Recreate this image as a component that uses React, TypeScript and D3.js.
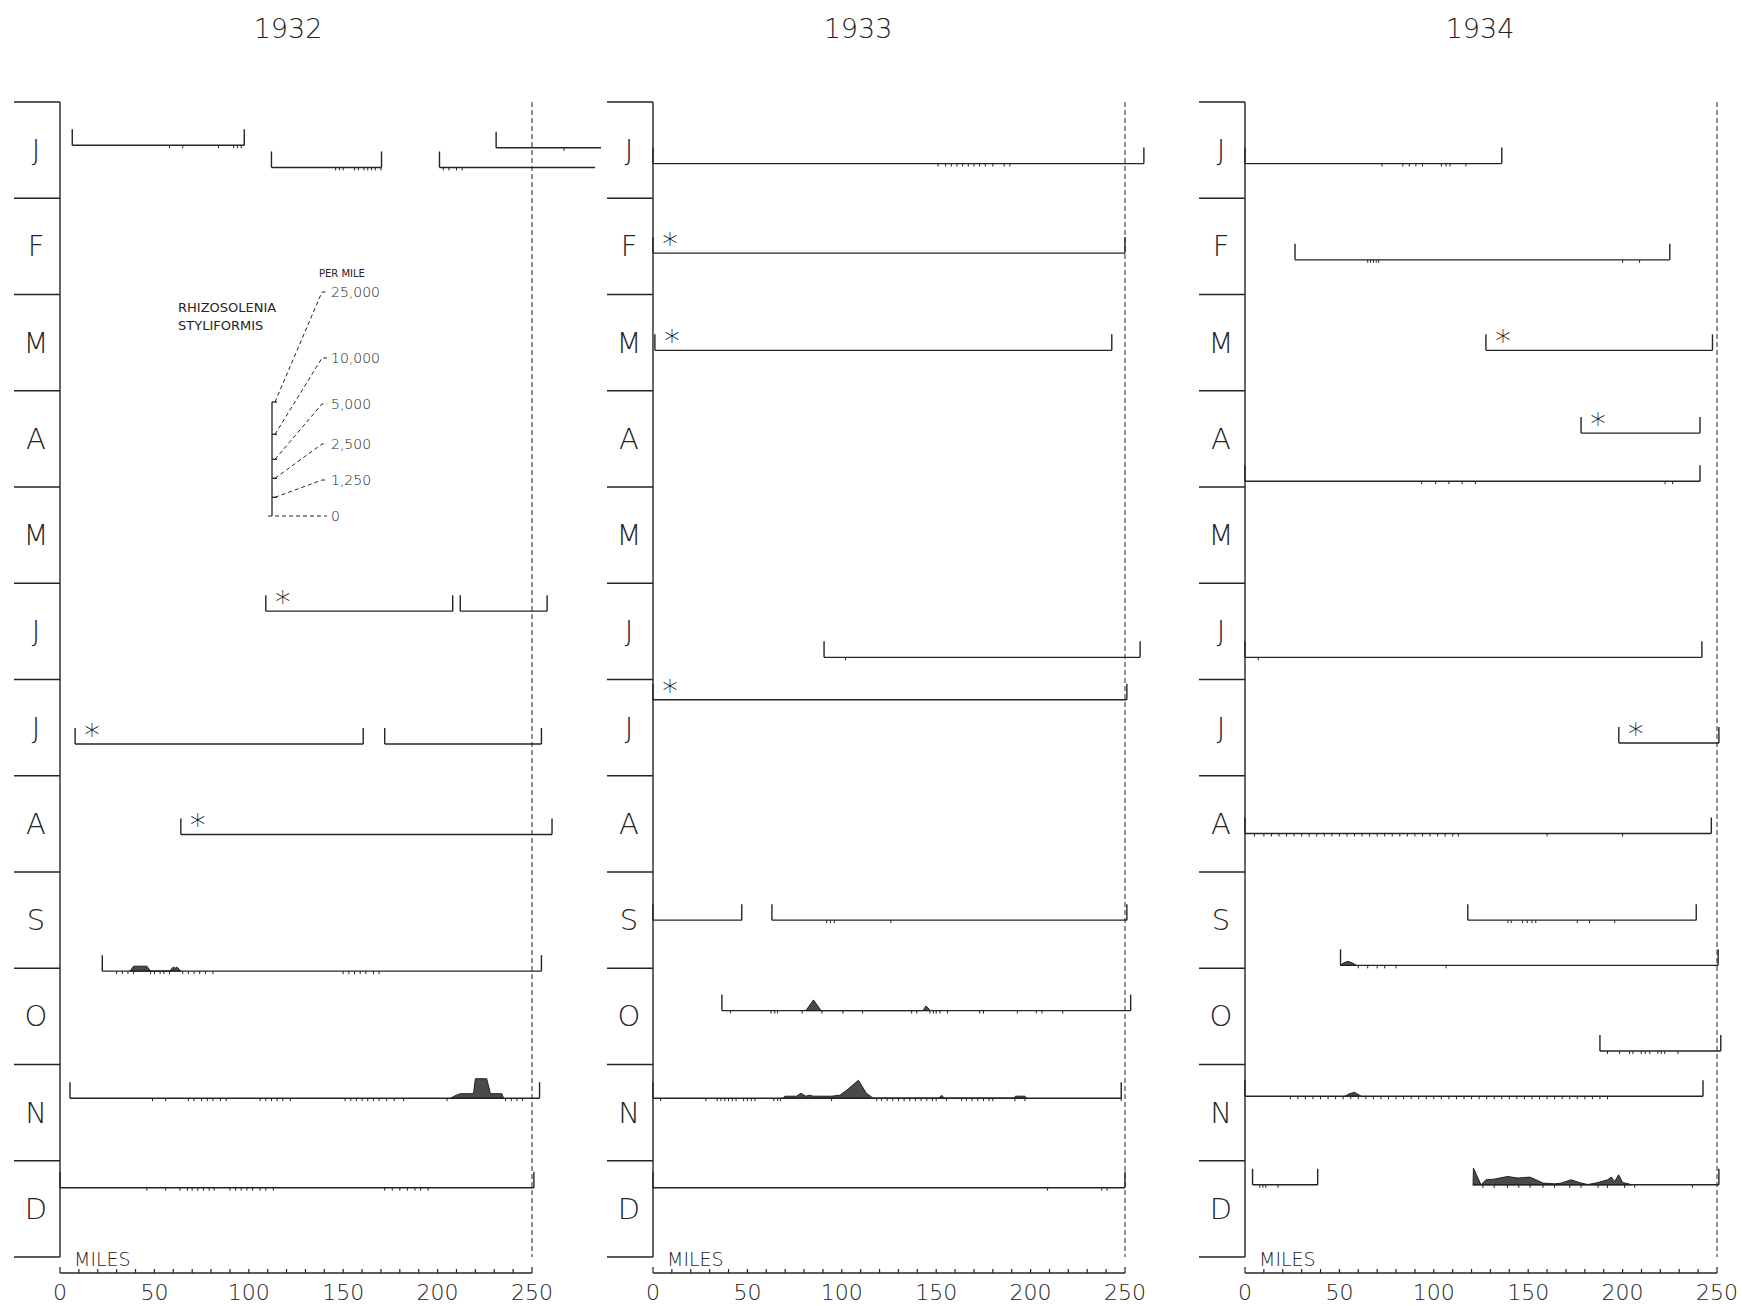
import React from "react";
import * as d3 from "d3";

// ---------------- DATA ----------------
const years = ["1932", "1933", "1934"];
const monthLabels = ["J", "F", "M", "A", "M", "J", "J", "A", "S", "O", "N", "D"];
const mileTicks = [0, 50, 100, 150, 200, 250];
const mileMinorTicks = [0, 10, 20, 30, 40, 50, 60, 70, 80, 90, 100, 110, 120, 130, 140, 150, 160, 170, 180, 190, 200, 210, 220, 230, 240, 250];
const legendValues = [0, 1250, 2500, 5000, 10000, 25000];

type Cruise = {
  date: number; // months from 1 January
  start: number; // miles
  end: number; // miles
  star?: boolean;
  noLeft?: boolean;
  noRight?: boolean;
  stations?: number[];
  profile?: [number, number][]; // [mile, cells per mile]
};

const cruises1932: Cruise[] = [
  { date: 0.45, start: 6.5, end: 97.6, stations: [58, 65, 84, 92, 94, 96] },
  { date: 0.68, start: 112, end: 170.3, stations: [146, 148, 150, 156, 158, 161, 163, 165, 167, 170] },
  { date: 0.68, start: 201, end: 283.4, noRight: true, stations: [203, 206, 210, 213] },
  { date: 0.476, start: 231, end: 286.6, noRight: true, stations: [267] },
  { date: 5.29, start: 109, end: 208, star: true },
  { date: 5.29, start: 212, end: 258 },
  { date: 6.67, start: 8, end: 160.6, star: true },
  { date: 6.67, start: 172, end: 255 },
  { date: 7.61, start: 64, end: 260.6, star: true },
  {
    date: 9.03, start: 22.4, end: 255,
    stations: [30, 33, 36, 39, 48, 50, 53, 55, 58, 65, 68, 71, 74, 77, 81, 150, 153, 156, 159, 162, 166, 169],
    profile: [[37, 0], [39, 330], [46, 330], [48, 0], [58, 0], [60, 270], [61, 200], [62, 270], [64, 0]],
  },
  {
    date: 10.35, start: 5.3, end: 254,
    stations: [49, 56, 68, 71, 75, 78, 81, 85, 88, 106, 109, 112, 115, 118, 122, 151, 154, 157, 160, 163, 166, 169, 173, 177, 182, 205, 236, 239, 242, 245],
    profile: [[207, 0], [209, 150], [212, 300], [219, 300], [220, 1300], [226, 1300], [228, 300], [234, 300], [235, 0]],
  },
  {
    date: 11.28, start: 0, end: 251,
    stations: [46, 56, 63.5, 67.5, 70, 73, 76, 79, 81.7, 90, 93, 96, 99, 102, 106, 109, 113, 172, 176, 180, 184, 188, 191, 195],
  },
];

const cruises1933: Cruise[] = [
  { date: 0.64, start: 0, end: 260, stations: [151, 155, 158, 161, 164, 167, 170, 173, 176, 180, 186, 189] },
  { date: 1.57, start: 0, end: 250, star: true },
  { date: 2.58, start: 1, end: 243, star: true },
  { date: 5.77, start: 90.6, end: 258, stations: [102] },
  { date: 6.21, start: 0, end: 251, star: true },
  { date: 8.5, start: 0, end: 47 },
  { date: 8.5, start: 63, end: 251, stations: [92, 94, 96, 126] },
  {
    date: 9.44, start: 36.5, end: 253,
    stations: [41, 62.5, 64.5, 66, 79, 89.5, 100.6, 111, 137, 139.7, 146.7, 148.5, 150, 152, 156, 173, 175, 193, 203, 206, 217],
    profile: [[81, 0], [85, 715], [89, 0], [143, 0], [144.6, 310], [147, 0]],
  },
  {
    date: 10.35, start: 0, end: 248,
    stations: [4, 28, 34, 36, 38, 40, 42, 44, 48, 50, 52, 54, 64, 66, 67.5, 94.6, 118.5, 121, 124, 127, 130, 133, 136, 139, 142, 145, 148, 150, 155.5, 163.5, 166, 169, 172, 175, 178, 180, 191.7, 197, 248],
    profile: [[68.7, 0], [70, 130], [76, 134], [78.4, 334], [80, 200], [81, 134], [83, 200], [85, 134], [94.6, 134], [99, 200], [102.6, 535], [108.8, 1200], [113, 334], [116.6, 0], [151.5, 0], [152.9, 200], [154.3, 0], [191.2, 0], [192, 134], [197, 134], [197.8, 0]],
  },
  { date: 11.28, start: 0, end: 250, stations: [209, 237.7, 240.5] },
];

const cruises1934: Cruise[] = [
  { date: 0.64, start: 0, end: 136, stations: [72.6, 83.6, 87, 90.5, 94, 104, 106.5, 108.6, 117] },
  { date: 1.64, start: 26.5, end: 225, stations: [65, 66.5, 68, 69.5, 70.8, 200, 209] },
  { date: 2.58, start: 127.6, end: 247.6, star: true },
  { date: 3.44, start: 178, end: 241, star: true },
  { date: 3.94, start: 0, end: 241, stations: [93.6, 101, 108, 115, 122, 222.5, 226.5] },
  { date: 5.77, start: 0, end: 242, stations: [7] },
  { date: 6.66, start: 198, end: 251, star: true },
  {
    date: 7.6, start: 0, end: 247,
    stations: [5, 10, 14, 18, 22, 26, 30, 34, 38, 42, 46, 50, 54, 58, 62, 66, 70, 74, 78, 82, 86, 90, 94, 98, 102, 106, 110, 113, 160, 200],
  },
  { date: 8.5, start: 118, end: 239, stations: [139.3, 141, 147, 149.5, 152, 154, 176, 182.5, 195.8] },
  {
    date: 8.97, start: 50.6, end: 250.6,
    stations: [60, 65, 70, 74, 80, 106.5],
    profile: [[50.6, 0], [52, 150], [54.5, 270], [57, 150], [59, 0]],
  },
  { date: 9.86, start: 188, end: 252, stations: [192, 198.4, 203.7, 205.5, 209.9, 212, 214.4, 218.7, 220.5, 222.3, 229.3] },
  {
    date: 10.33, start: 0, end: 242.6,
    stations: [24, 28, 32, 36, 40, 44, 48, 52, 56, 60, 64, 68, 72, 76, 80, 84, 88, 92, 96, 100, 104, 108, 112, 116, 120, 124, 128, 132, 136, 140, 144, 148, 152, 156, 160, 164, 168, 172, 176, 180, 184, 188, 192],
    profile: [[53, 0], [55, 150], [58, 270], [61.5, 0]],
  },
  { date: 11.25, start: 4, end: 38.5, stations: [7.8, 9.5, 11, 17.5] },
  {
    date: 11.25, start: 120.6, end: 251, noLeft: true,
    stations: [126, 132, 139, 145, 151, 157.8, 164, 172, 178, 187, 192, 201, 206.4, 237],
    profile: [[120.8, 0], [121, 1116], [125, 0], [127.6, 334], [132, 380], [139, 555], [144.6, 450], [150.8, 515], [155, 290], [157.8, 115], [164, 67], [167.5, 115], [172.7, 334], [178, 115], [181.7, 20], [187, 155], [192, 334], [194, 515], [195.8, 220], [197.9, 670], [200, 155], [203, 67], [204.6, 0]],
  },
];

const cruisesByYear = [cruises1932, cruises1933, cruises1934];

// ---------------- LAYOUT ----------------
const W = 1742;
const H = 1306;
const TOP = 102;
const BOTTOM = 1257;
const AXIS_Y = 1273;
const PANEL_W = 472;
const ORIGINS = [60, 653, 1245];
const TITLE_X = [288, 858, 1480];
const TICK_LEN = 46;
const BRACKET_H = 16;
const LEGEND_HEIGHTS = [0, 18.7, 37.7, 56.7, 81.7, 114];
const LEGEND_LABEL_RISE = [0, 36, 72, 112, 158, 224];
const LEG_X = 272;
const LEG_Y0 = 516;
const LEG_LABEL_X = 322;

const INK = "#242424";
const FONT = "'DejaVu Sans', 'Liberation Sans', sans-serif";

const xScale = d3.scaleLinear().domain([0, 250]).range([0, PANEL_W]);
const yScale = d3.scaleLinear().domain([0, 12]).range([TOP, BOTTOM]);
const hScale = d3.scaleLinear().domain(legendValues).range(LEGEND_HEIGHTS);
const fmt = d3.format(",");

function Panel({ yi }: { yi: number }) {
  const ox = ORIGINS[yi];
  const cruises = cruisesByYear[yi];
  const monthBounds = d3.range(0, 13);
  return (
    <g transform={`translate(${ox},0)`}>
      <text x={TITLE_X[yi] - ox} y={28} fontSize={27} fontFamily={FONT} fontWeight={200} fill={INK} textAnchor="middle" dominantBaseline="central">
        {years[yi]}
      </text>
      <line x1={0} x2={0} y1={yScale(0)} y2={yScale(12)} stroke={INK} strokeWidth={1.4} />
      {monthBounds.map((m) => (
        <line key={"mb" + m} x1={-TICK_LEN} x2={0} y1={yScale(m)} y2={yScale(m)} stroke={INK} strokeWidth={1.4} />
      ))}
      {monthLabels.map((lab, i) => (
        <text key={"ml" + i} x={-24} y={yScale(i + 0.5)} fontSize={29} fontFamily={FONT} fontWeight={200} fill={INK} textAnchor="middle" dominantBaseline="central">
          {lab}
        </text>
      ))}
      <line x1={xScale(250)} x2={xScale(250)} y1={yScale(0)} y2={yScale(12)} stroke={INK} strokeWidth={1} strokeDasharray="5,3" />
      {cruises.map((c, ci) => {
        const by = yScale(c.date);
        const x0 = xScale(c.start);
        const x1 = xScale(c.end);
        const area = d3
          .area<[number, number]>()
          .x((d) => xScale(d[0]))
          .y0(by)
          .y1((d) => by - hScale(d[1]));
        return (
          <g key={"c" + ci}>
            {c.profile && <path d={area(c.profile) || ""} fill="#4a4a4a" stroke="#222" strokeWidth={1} />}
            <line x1={x0} x2={x1} y1={by} y2={by} stroke={INK} strokeWidth={1.4} />
            {!c.noLeft && <line x1={x0} x2={x0} y1={by} y2={by - BRACKET_H} stroke={INK} strokeWidth={1.4} />}
            {!c.noRight && <line x1={x1} x2={x1} y1={by} y2={by - BRACKET_H} stroke={INK} strokeWidth={1.4} />}
            {(c.stations || []).map((s, si) => (
              <line key={"s" + si} x1={xScale(s)} x2={xScale(s)} y1={by} y2={by + 3} stroke={INK} strokeWidth={1} />
            ))}
            {c.star && (
              <text x={x0 + 17} y={by + 1} fontSize={31} fontFamily={FONT} fontWeight={200} fill="#111" textAnchor="middle">
                *
              </text>
            )}
          </g>
        );
      })}
      <line x1={xScale(0)} x2={xScale(250)} y1={AXIS_Y} y2={AXIS_Y} stroke={INK} strokeWidth={1.3} />
      {mileMinorTicks.map((t) => (
        <line key={"mt" + t} x1={xScale(t)} x2={xScale(t)} y1={AXIS_Y} y2={AXIS_Y - (t === 0 || t === 250 ? 6 : 4)} stroke={INK} strokeWidth={1.2} />
      ))}
      {mileTicks.map((t) => (
        <text key={"ml" + t} x={xScale(t)} y={AXIS_Y + 19} fontSize={22} fontFamily={FONT} fontWeight={200} fill={INK} textAnchor="middle" dominantBaseline="central">
          {t}
        </text>
      ))}
      <text x={14} y={AXIS_Y - 7} fontSize={19} fontFamily={FONT} fontWeight={200} fill={INK}>
        MILES
      </text>
    </g>
  );
}

function Legend() {
  const levels = legendValues.map((v, i) => ({ v, y: LEG_Y0 - hScale(v), ly: LEG_Y0 - LEGEND_LABEL_RISE[i] }));
  return (
    <g>
      <text x={178} y={307} fontSize={13} fontFamily={FONT} fill={INK} dominantBaseline="central">RHIZOSOLENIA</text>
      <text x={178} y={325} fontSize={13} fontFamily={FONT} fill={INK} dominantBaseline="central">STYLIFORMIS</text>
      <text x={319} y={273} fontSize={10} fontFamily={FONT} fill={INK} dominantBaseline="central">PER MILE</text>
      <line x1={LEG_X} x2={LEG_X} y1={LEG_Y0} y2={LEG_Y0 - hScale(25000)} stroke={INK} strokeWidth={1.3} />
      {levels.map((l, i) => (
        <g key={"lg" + i}>
          {i > 0 && <line x1={LEG_X} x2={LEG_X + 5} y1={l.y} y2={l.y} stroke={INK} strokeWidth={1.3} />}
          <path
            d={`M${i === 0 ? LEG_X - 4 : LEG_X + 3},${l.y} L${LEG_LABEL_X},${l.ly} L${LEG_LABEL_X + 5},${l.ly}`}
            fill="none"
            stroke={INK}
            strokeWidth={1}
            strokeDasharray="4,3"
          />
          <text x={LEG_LABEL_X + 9} y={l.ly} fontSize={14} fontFamily={FONT} fontWeight={200} fill={INK} dominantBaseline="central">
            {fmt(l.v)}
          </text>
        </g>
      ))}
    </g>
  );
}

export default function App() {
  return (
    <svg width={W} height={H} viewBox={`0 0 ${W} ${H}`} style={{ position: "absolute", left: 0, top: 0, background: "#fff" }}>
      <rect x={0} y={0} width={W} height={H} fill="#fff" />
      {years.map((_, i) => (
        <Panel key={i} yi={i} />
      ))}
      <Legend />
    </svg>
  );
}
